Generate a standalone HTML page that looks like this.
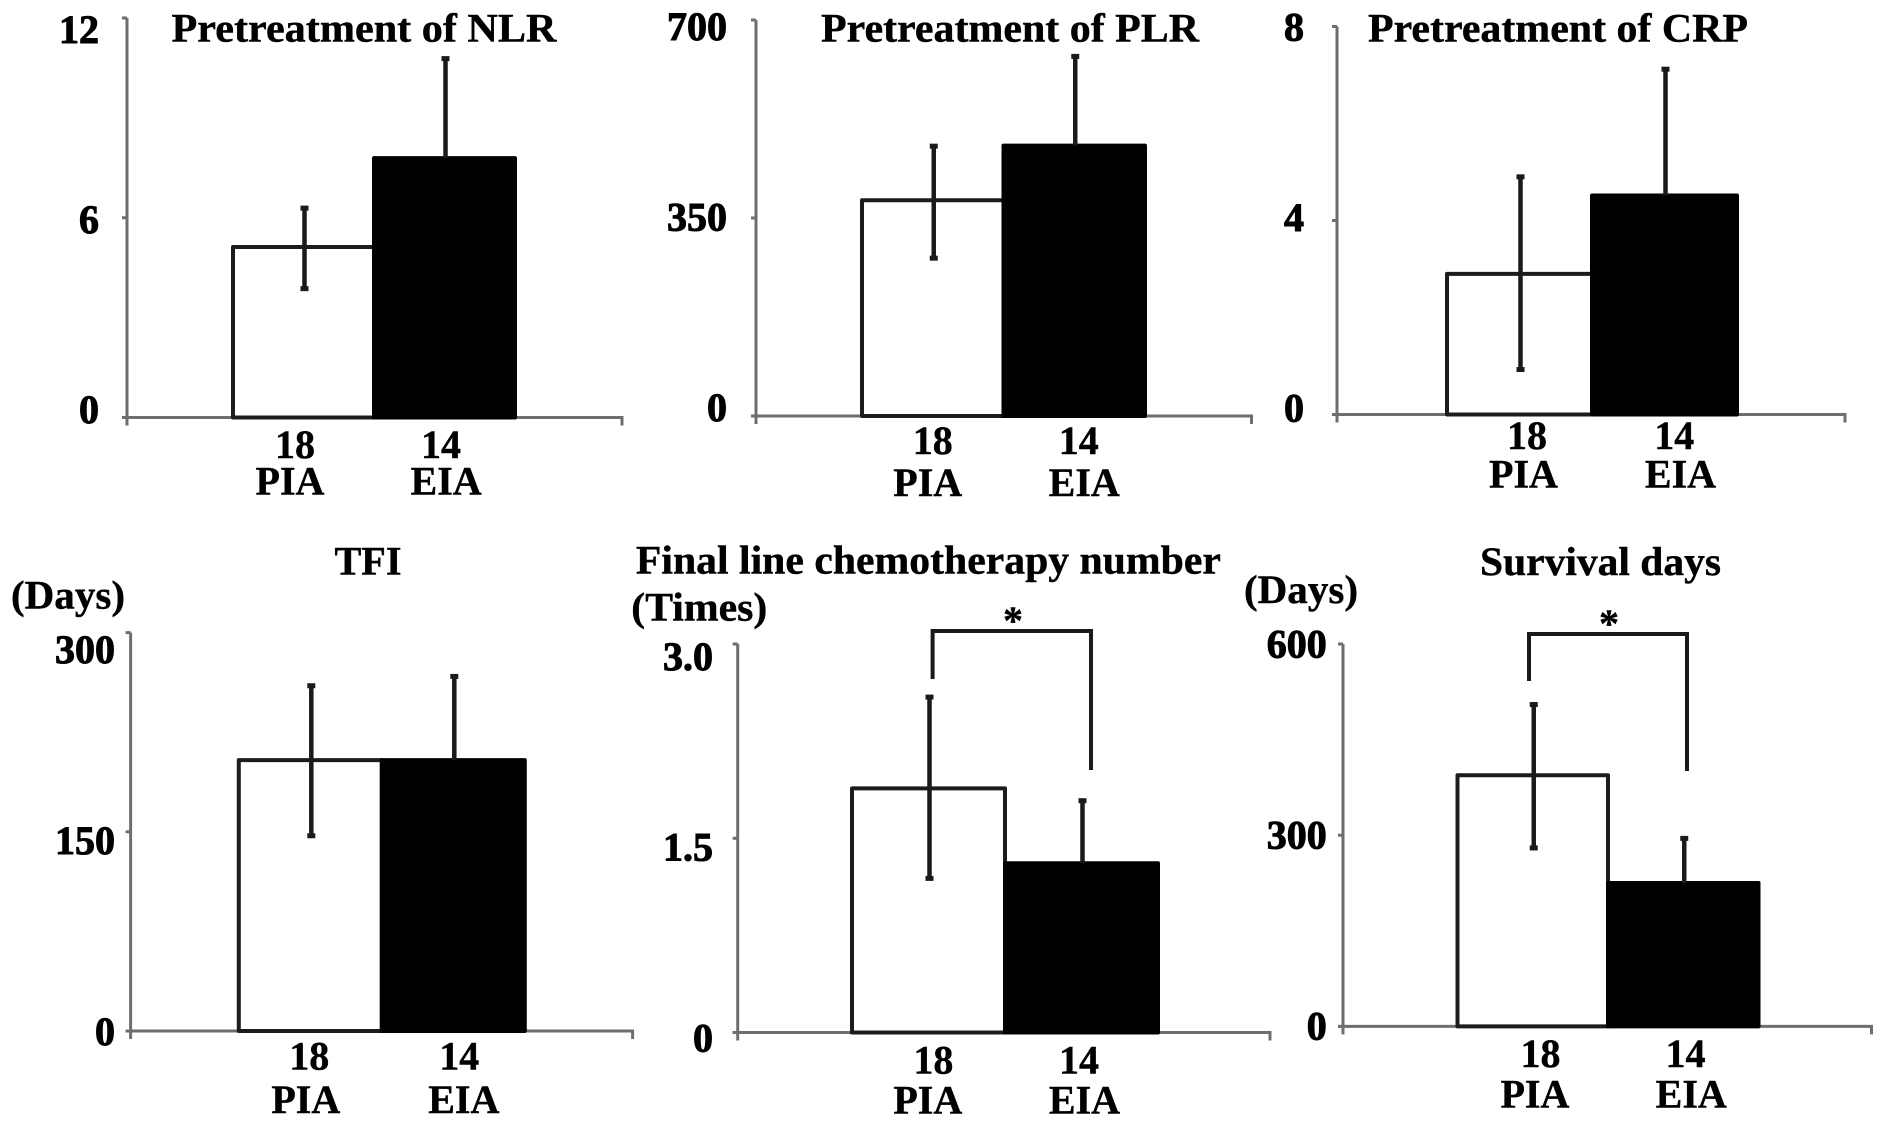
<!DOCTYPE html>
<html lang="en">
<head>
<meta charset="utf-8">
<title>Pretreatment and outcome bar charts: PIA vs EIA</title>
<style>
html,body{margin:0;padding:0;background:#fff;width:1887px;height:1126px;overflow:hidden}
svg{display:block}
text{font-family:"Liberation Serif",serif;font-weight:bold;fill:#000;font-size:40px;stroke:#000;stroke-width:.4px}
text.tick{stroke-width:1px}
</style>
</head>
<body>
<svg id="figure" xmlns="http://www.w3.org/2000/svg" width="1887" height="1126" viewBox="0 0 1887 1126">
  <rect x="0" y="0" width="1887" height="1126" fill="#fff"/>
  <text x="364" y="41.5" text-anchor="middle" textLength="385" lengthAdjust="spacingAndGlyphs">Pretreatment of NLR</text>
  <text x="1010" y="41.5" text-anchor="middle" textLength="378" lengthAdjust="spacingAndGlyphs">Pretreatment of PLR</text>
  <text x="1558" y="41.5" text-anchor="middle" textLength="380" lengthAdjust="spacingAndGlyphs">Pretreatment of CRP</text>
  <text x="368" y="574.5" text-anchor="middle" textLength="67" lengthAdjust="spacingAndGlyphs">TFI</text>
  <text x="928.4" y="573.6" text-anchor="middle" textLength="585" lengthAdjust="spacingAndGlyphs">Final line chemotherapy number</text>
  <text x="1600.5" y="574.8" text-anchor="middle" textLength="241" lengthAdjust="spacingAndGlyphs">Survival days</text>
  <text x="68" y="608.7" text-anchor="middle" textLength="114" lengthAdjust="spacingAndGlyphs">(Days)</text>
  <text x="699.3" y="620.5" text-anchor="middle" textLength="136" lengthAdjust="spacingAndGlyphs">(Times)</text>
  <text x="1301" y="603" text-anchor="middle" textLength="114" lengthAdjust="spacingAndGlyphs">(Days)</text>
</svg>
<script>
// Shared categories
const categories = ['PIA', 'EIA'];
const patientCounts = ['18', '14'];

// Pretreatment of NLR
const nlrMeans = [5.12, 7.79];
const nlrHighs = [6.29, 10.78];
const nlrLows = [3.87, null];
const nlrTickValues = [0, 6, 12];
const nlrTickLabels = ['0', '6', '12'];

// Pretreatment of PLR
const plrMeans = [381.3, 478];
const plrHighs = [477, 635.7];
const plrLows = [279, null];
const plrTickValues = [0, 350, 700];
const plrTickLabels = ['0', '350', '700'];

// Pretreatment of CRP
const crpMeans = [2.9, 4.515];
const crpHighs = [4.9, 7.12];
const crpLows = [0.928, null];
const crpTickValues = [0, 4, 8];
const crpTickLabels = ['0', '4', '8'];

// TFI
const tfiMeans = [204, 204];
const tfiHighs = [260, 267];
const tfiLows = [147, null];
const tfiTickValues = [0, 150, 300];
const tfiTickLabels = ['0', '150', '300'];

// Final line chemotherapy number
const chemoMeans = [1.885, 1.307];
const chemoHighs = [2.59, 1.79];
const chemoLows = [1.19, null];
const chemoTickValues = [0, 1.5, 3];
const chemoTickLabels = ['0', '1.5', '3.0'];

// Survival days
const survivalMeans = [394, 225];
const survivalHighs = [505, 295];
const survivalLows = [280, null];
const survivalTickValues = [0, 300, 600];
const survivalTickLabels = ['0', '300', '600'];

const SVG_NS = 'http://www.w3.org/2000/svg';
const figure = document.getElementById('figure');

function mk(tag, attrs, parent) {
  const el = document.createElementNS(SVG_NS, tag);
  for (const k in attrs) el.setAttribute(k, attrs[k]);
  parent.appendChild(el);
  return el;
}

function drawPanel(id, means, highs, lows, tickValues, tickLabels, g) {
  const maxV = tickValues[tickValues.length - 1];
  const yScale = v => g.base - (v / maxV) * (g.base - g.top);
  const yLabel = v => g.labelBase - (v / maxV) * (g.labelBase - g.labelTop);
  const xBar = i => g.barLeft + i * g.barW;

  const panel = mk('g', {}, figure);
  
  

  // y axis
  const yAxis = mk('line', {x1: g.axisX, x2: g.axisX, y1: g.top, y2: g.base + 8, stroke: '#6e6e6e', 'stroke-width': 3}, panel);
  
  

  // bars
  means.forEach((m, i) => {
    const black = i === 1;
    const bar = mk('rect', {
      x: xBar(i), y: yScale(m), width: g.barW, height: g.base - yScale(m),
      fill: black ? '#000' : '#fff', stroke: black ? '#000' : '#1c1c1c', 'stroke-width': 4, 'stroke-linejoin': 'round'
    }, panel);
    
    
  });

  // x axis (drawn beneath the bars)
  const xAxis = mk('path', {
    d: 'M' + (g.axisX - 5) + ' ' + g.base + 'H' + g.xEnd + 'V' + (g.base + 8),
    fill: 'none', stroke: '#6e6e6e', 'stroke-width': 3
  }, panel);
  
  
  panel.insertBefore(xAxis, panel.querySelector('rect'));

  // error bars
  means.forEach((m, i) => {
    const cx = xBar(i) + g.barW / 2 + 1;
    const lowEnd = lows[i] === null ? m : lows[i];
    const err = mk('line', {x1: cx, x2: cx, y1: yScale(highs[i]), y2: yScale(lowEnd), stroke: '#1a1a1a', 'stroke-width': 4.5}, panel);
    
    
    const capHigh = mk('line', {x1: cx - 4, x2: cx + 4, y1: yScale(highs[i]), y2: yScale(highs[i]), stroke: '#1a1a1a', 'stroke-width': 5}, panel);
    
    
    if (lows[i] !== null) {
      const capLow = mk('line', {x1: cx - 4, x2: cx + 4, y1: yScale(lows[i]), y2: yScale(lows[i]), stroke: '#1a1a1a', 'stroke-width': 5}, panel);
      
      
    }
  });

  // y ticks and labels
  tickValues.forEach((v, i) => {
    const tick = mk('line', {x1: g.axisX - 5, x2: g.axisX, y1: yScale(v), y2: yScale(v), stroke: '#6e6e6e', 'stroke-width': 3}, panel);
    
    
    const label = mk('text', {x: g.tickRight, y: yLabel(v), 'text-anchor': 'end', class: 'tick'}, panel);
    
    
    label.textContent = tickLabels[i];
  });

  // category labels
  categories.forEach((c, i) => {
    const count = mk('text', {x: xBar(i) + g.barW / 2 + g.countShift[i], y: g.countY, 'text-anchor': 'middle'}, panel);
    
    
    count.textContent = patientCounts[i];
    const cat = mk('text', {x: xBar(i) + g.barW / 2 + g.catShift[i], y: g.catY, 'text-anchor': 'middle'}, panel);
    
    
    cat.textContent = c;
  });

  // significance bracket
  if (g.bracket) {
    const b = g.bracket;
    const bracket = mk('path', {
      d: 'M' + b.left + ' ' + b.leftEnd + 'V' + b.y + 'H' + b.right + 'V' + b.rightEnd,
      fill: 'none', stroke: '#1a1a1a', 'stroke-width': 4
    }, panel);
    
    
    const star = mk('text', {x: b.starX, y: b.y + 3, 'text-anchor': 'middle'}, panel);
    
    
    star.textContent = '*';
  }
}

drawPanel('nlr', nlrMeans, nlrHighs, nlrLows, nlrTickValues, nlrTickLabels, {
  axisX: 127, top: 18, base: 417.5, xEnd: 622, barLeft: 233, barW: 141,
  tickRight: 99, labelBase: 423, labelTop: 43,
  countShift: [-8.5, -3.5], catShift: [-13.5, 1.6], countY: 458, catY: 494.5
});
drawPanel('plr', plrMeans, plrHighs, plrLows, plrTickValues, plrTickLabels, {
  axisX: 756, top: 20, base: 416, xEnd: 1251.5, barLeft: 862, barW: 141.5,
  tickRight: 727, labelBase: 421, labelTop: 40,
  countShift: [0, 4.5], catShift: [-5, 10], countY: 454, catY: 496
});
drawPanel('crp', crpMeans, crpHighs, crpLows, crpTickValues, crpTickLabels, {
  axisX: 1337, top: 26.5, base: 414.5, xEnd: 1845, barLeft: 1447, barW: 145,
  tickRight: 1304, labelBase: 421.5, labelTop: 40.5,
  countShift: [7.5, 9.8], catShift: [4, 16], countY: 449, catY: 487.5
});
drawPanel('tfi', tfiMeans, tfiHighs, tfiLows, tfiTickValues, tfiTickLabels, {
  axisX: 130.6, top: 632.6, base: 1031, xEnd: 632.6, barLeft: 238.8, barW: 143,
  tickRight: 115, labelBase: 1045, labelTop: 663,
  countShift: [-1, 6], catShift: [-4.5, 10.5], countY: 1069.7, catY: 1113
});
drawPanel('chemo', chemoMeans, chemoHighs, chemoLows, chemoTickValues, chemoTickLabels, {
  axisX: 737.7, top: 644, base: 1032.5, xEnd: 1270, barLeft: 852, barW: 153,
  tickRight: 713, labelBase: 1051.5, labelTop: 669.9,
  countShift: [4.9, -2.5], catShift: [-0.7, 3], countY: 1073.5, catY: 1113.4,
  bracket: {left: 932.6, right: 1091, y: 631, leftEnd: 679, rightEnd: 770, starX: 1013}
});
drawPanel('survival', survivalMeans, survivalHighs, survivalLows, survivalTickValues, survivalTickLabels, {
  axisX: 1343, top: 644, base: 1026.4, xEnd: 1871.5, barLeft: 1457.5, barW: 150.5,
  tickRight: 1326.7, labelBase: 1039.3, labelTop: 657.3,
  countShift: [7.8, 2.2], catShift: [2.2, 8], countY: 1067, catY: 1107.7,
  bracket: {left: 1529, right: 1687, y: 634, leftEnd: 681, rightEnd: 771, starX: 1609}
});
</script>
</body>
</html>
